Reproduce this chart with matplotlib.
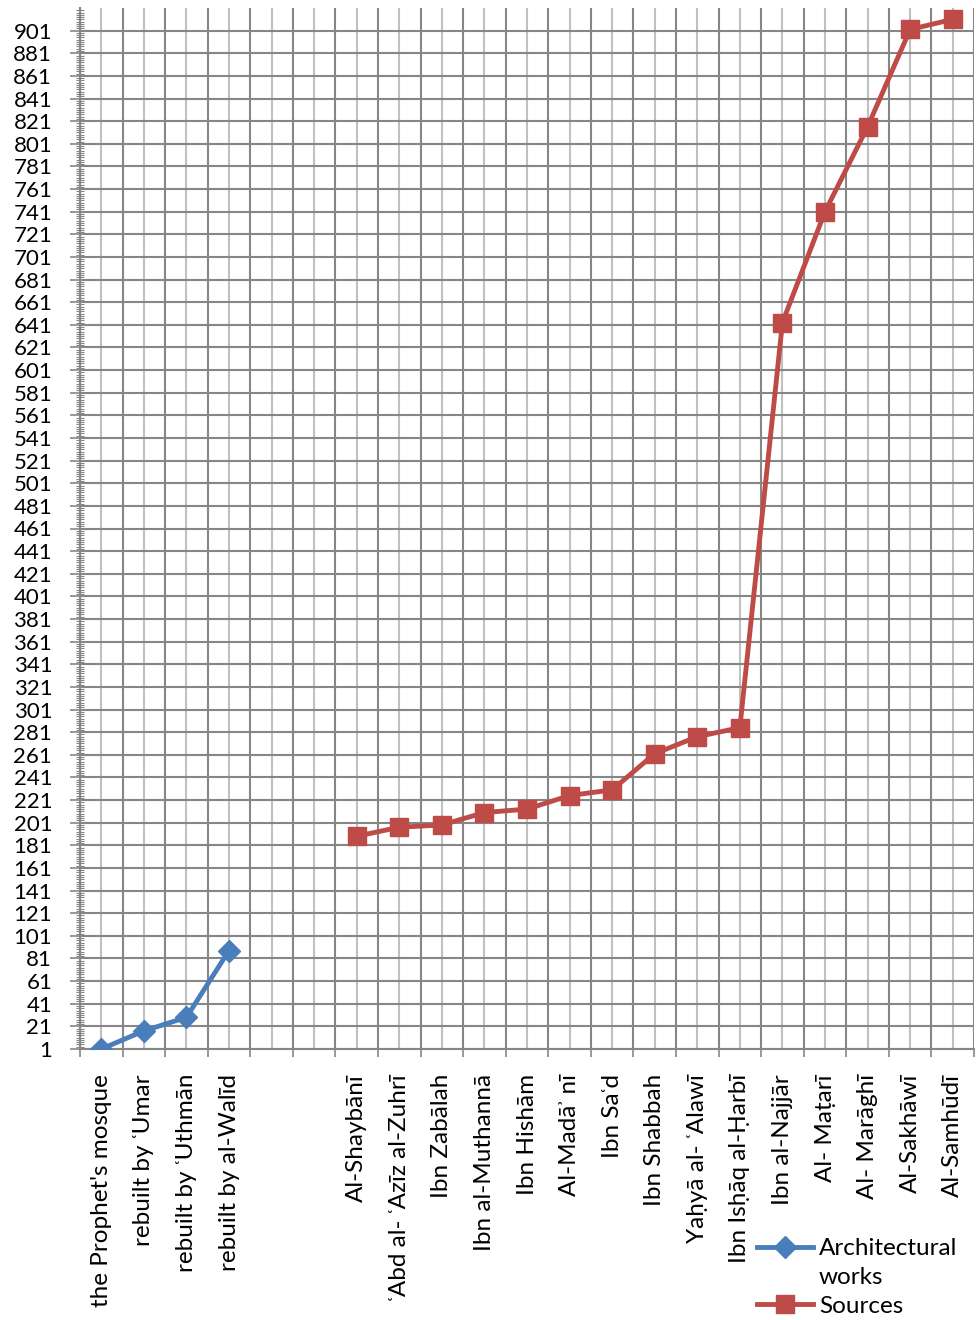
import numpy as np
import matplotlib
matplotlib.use("Agg")
import matplotlib.pyplot as plt
from matplotlib.lines import Line2D
from matplotlib.ticker import FixedLocator, NullFormatter

plt.rcParams["font.family"] = ["Lato", "Noto Sans", "DejaVu Sans"]

# Category axis: four building phases, two empty slots, then fifteen authors
categories = [
    "the Prophet's mosque",
    "rebuilt by \u02bfUmar",
    "rebuilt by \u02bfUthm\u0101n",
    "rebuilt by al-Wal\u012bd",
    "",
    "",
    "Al-Shayb\u0101n\u012b",
    "\u02bfAbd al- \u02bfAz\u012bz al-Zuhr\u012b",
    "Ibn Zab\u0101lah",
    "Ibn al-Muthann\u0101",
    "Ibn Hish\u0101m",
    "Al-Mad\u0101\u02be n\u012b",
    "Ibn Sa\u02bfd",
    "Ibn Shabbah",
    "Ya\u1e25y\u0101 al- \u02bfAlaw\u012b",
    "Ibn Is\u1e25\u0101q al-\u1e24arb\u012b",
    "Ibn al-Najj\u0101r",
    "Al- Ma\u1e6dar\u012b",
    "Al- Mar\u0101gh\u012b",
    "Al-Sakh\u0101w\u012b",
    "Al-Samh\u016bd\u012b",
]

nan = np.nan
architectural = [1, 17, 29, 88] + [nan] * 17
sources = [nan] * 6 + [189, 197, 199, 210, 213, 225, 230, 262, 277, 285,
                       643, 741, 816, 902, 911]

y_ticks = list(range(1, 902, 20))

blue = "#4A7EBB"
red = "#BE4B48"
grid_dark = "#868686"
grid_light = "#C0C0C0"

fig = plt.figure(figsize=(9.76, 13.2), dpi=100)
ax = fig.add_axes([80 / 976, 1 - 1049 / 1320, (974 - 80) / 976, (1049 - 8) / 1320])

x = np.arange(len(categories))
ax.plot(x, architectural, color=blue, lw=3.5, marker="D", ms=11,
        solid_joinstyle="round", zorder=3)
ax.plot(x, sources, color=red, lw=3.5, marker="s", ms=13,
        solid_joinstyle="round", zorder=3)

ax.set_xlim(-0.5, len(categories) - 0.5)
ax.set_ylim(1, 921)

# x: boundary ticks (gridlines, tick marks) and centred labels
ax.xaxis.set_major_locator(FixedLocator(np.arange(-0.5, len(categories), 1.0)))
ax.xaxis.set_major_formatter(NullFormatter())
ax.xaxis.set_minor_locator(FixedLocator(x))
ax.set_xticklabels(categories, minor=True, rotation=90, ha="center", va="top",
                   fontsize=17.5)
ax.tick_params(axis="x", which="major", direction="out", length=6, width=1.2,
               color=grid_dark)
ax.tick_params(axis="x", which="minor", length=0, pad=18)

# y: major ticks every 20, dense minor ticks across the spine
ax.set_yticks(y_ticks)
ax.set_yticklabels([str(v) for v in y_ticks], fontsize=16)
ax.yaxis.set_minor_locator(FixedLocator(np.arange(1, 921, 2)))
ax.tick_params(axis="y", which="major", direction="out", length=7, width=1.2,
               color=grid_dark, pad=13)
ax.tick_params(axis="y", which="minor", direction="inout", length=6, width=0.8,
               color=grid_dark)

ax.grid(True, which="major", axis="both", color=grid_dark, lw=1.5, zorder=0)
ax.grid(True, which="minor", axis="x", color=grid_light, lw=1.5, zorder=0)
ax.set_axisbelow(True)

for side in ("top", "right"):
    ax.spines[side].set_visible(False)
for side in ("left", "bottom"):
    ax.spines[side].set_color(grid_dark)
    ax.spines[side].set_linewidth(1.5)

handles = [
    Line2D([], [], color=blue, lw=3.5, marker="D", ms=11),
    Line2D([], [], linestyle="none"),
    Line2D([], [], color=red, lw=3.5, marker="s", ms=13),
]
labels = ["Architectural", "works", "Sources"]
fig.legend(handles, labels, loc="upper left",
           bbox_to_anchor=(757 / 976, 1 - 1238 / 1320),
           frameon=False, fontsize=17.5, handlelength=2.3,
           handletextpad=0.25, labelspacing=0.32, borderpad=0,
           borderaxespad=0)

fig.savefig("out.png", dpi=100)
